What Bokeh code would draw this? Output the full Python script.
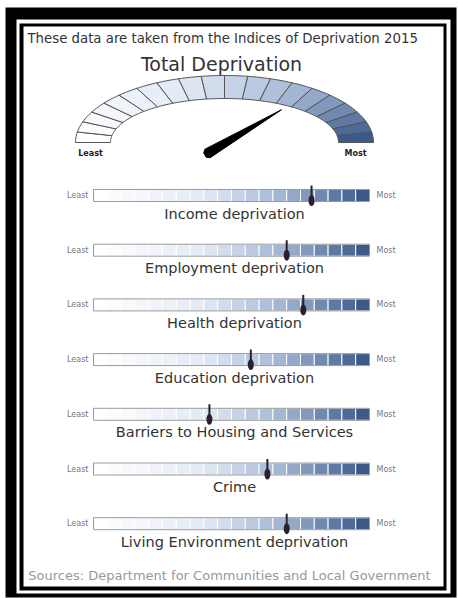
import numpy as np
from bokeh.plotting import figure
from bokeh.models import Range1d
from bokeh.core.properties import value
from bokeh.embed import file_html
from bokeh.resources import INLINE

# ---------------- data ----------------
header = "These data are taken from the Indices of Deprivation 2015"
title = "Total Deprivation"
source_note = "Sources: Department for Communities and Local Government"
total_value = 0.83          # position of the gauge needle (0 = least, 1 = most)
categories = ["Income deprivation", "Employment deprivation", "Health deprivation",
              "Education deprivation", "Barriers to Housing and Services",
              "Crime", "Living Environment deprivation"]
values = [0.79, 0.70, 0.76, 0.57, 0.42, 0.63, 0.70]   # position on each bar (0..1)
end_labels = ["Least", "Most"]
n_segments = 20

FONT = value("DejaVu Sans")

W, H = 458, 598
p = figure(width=W, height=H, x_range=Range1d(0, W), y_range=Range1d(H, 0),
           output_backend="svg", toolbar_location=None, min_border=0)
p.axis.visible = False
p.grid.visible = False
p.outline_line_color = None
p.background_fill_color = "white"
p.border_fill_color = "white"

# ---------------- frame ----------------
p.quad(left=[5], right=[456], top=[7], bottom=[597], fill_color="black", line_color=None)
p.quad(left=[16], right=[450], top=[19], bottom=[593], fill_color="white", line_color=None)
p.quad(left=[19], right=[446], top=[23], bottom=[590], fill_color="black", line_color=None)
p.quad(left=[23], right=[443], top=[26], bottom=[586], fill_color="white", line_color=None)

STOPS = [0.0, 0.4, 0.7, 1.0]
STOP_COLS = np.array([[255, 255, 255], [226, 233, 245], [160, 180, 211], [59, 90, 139]], float)

def seg_color(t):
    c = [np.interp(t, STOPS, STOP_COLS[:, k]) for k in range(3)]
    return "#%02x%02x%02x" % tuple(int(round(v)) for v in c)

# ---------------- gauge ----------------
cx, cy = 224, 142
rxo, ryo, rxi, ryi = 149, 67, 114, 44
xs, ys, cols = [], [], []
for i in range(n_segments):
    a0 = np.pi * (1 - i / n_segments)
    a1 = np.pi * (1 - (i + 1) / n_segments)
    aa = np.linspace(a0, a1, 8)
    ox = cx + rxo * np.cos(aa); oy = cy - ryo * np.sin(aa)
    ix = cx + rxi * np.cos(aa[::-1]); iy = cy - ryi * np.sin(aa[::-1])
    xs.append(list(np.concatenate([ox, ix]))); ys.append(list(np.concatenate([oy, iy])))
    cols.append(seg_color(i / (n_segments - 1)))
p.patches(xs=xs, ys=ys, fill_color=cols, line_color="#555555", line_width=1)

# needle
px0, py0 = 207, 153
ang = np.pi * (1 - total_value)
L = 86
d = np.array([np.cos(ang), -np.sin(ang)])
n = np.array([-d[1], d[0]])
tip = np.array([px0, py0]) + L * d
base = np.array([px0, py0])
pts = [tip, base + 5 * n, base - 3 * d + 2.5 * n, base - 3 * d - 2.5 * n, base - 5 * n]
p.patch(x=[q[0] for q in pts], y=[q[1] for q in pts], fill_color="black", line_color="black", line_width=1)

p.text(x=[90, 355], y=[153, 153], text=end_labels, text_font=FONT, text_font_size="8px",
       text_font_style="bold", text_color="#222222", text_align="center", text_baseline="middle")

# ---------------- bars ----------------
bx0, bx1 = 93, 369
bh = 12
tops = [189 + k * 54.7 for k in range(len(categories))]
segw = (bx1 - bx0) / n_segments
ql, qr, qt, qb, qc = [], [], [], [], []
for t in tops:
    for i in range(n_segments):
        ql.append(bx0 + i * segw); qr.append(bx0 + (i + 1) * segw)
        qt.append(t); qb.append(t + bh); qc.append(seg_color(i / (n_segments - 1)))
p.quad(left=ql, right=qr, top=qt, bottom=qb, fill_color=qc, line_color="white", line_width=1)
p.quad(left=[bx0] * len(tops), right=[bx1] * len(tops), top=tops, bottom=[t + bh for t in tops],
       fill_color=None, line_color="#9a9a9a", line_width=1)

mx = [bx0 + v * (bx1 - bx0) for v in values]
p.segment(x0=mx, y0=[t - 4 for t in tops], x1=mx, y1=[t + bh for t in tops],
          line_color="#2a1f2e", line_width=2)
p.ellipse(x=mx, y=[t + bh - 1 for t in tops], width=6, height=11,
          fill_color="#2a1f2e", line_color=None)

p.text(x=[bx0 - 5] * len(tops), y=[t + bh / 2 for t in tops], text=[end_labels[0]] * len(tops),
       text_font=FONT, text_font_size="8px", text_color="#777777", text_align="right",
       text_baseline="middle")
p.text(x=[bx1 + 7] * len(tops), y=[t + bh / 2 for t in tops], text=[end_labels[1]] * len(tops),
       text_font=FONT, text_font_size="8px", text_color="#777777", text_align="left",
       text_baseline="middle")
p.text(x=[(bx0 + bx1) / 2 + 3] * len(tops), y=[t + 24 for t in tops], text=categories,
       text_font=FONT, text_font_size="14.5px", text_color="#333333", text_align="center",
       text_baseline="middle")

# ---------------- texts ----------------
p.text(x=[27], y=[38], text=[header], text_font=FONT, text_font_size="13.3px",
       text_color="#333333", text_align="left", text_baseline="middle")
p.text(x=[221], y=[63], text=[title], text_font=FONT, text_font_size="19px",
       text_color="#333333", text_align="center", text_baseline="middle")
p.text(x=[229], y=[575], text=[source_note], text_font=FONT, text_font_size="13px",
       text_color="#999999", text_align="center", text_baseline="middle")

open("out.html", "w").write(file_html(p, INLINE))
